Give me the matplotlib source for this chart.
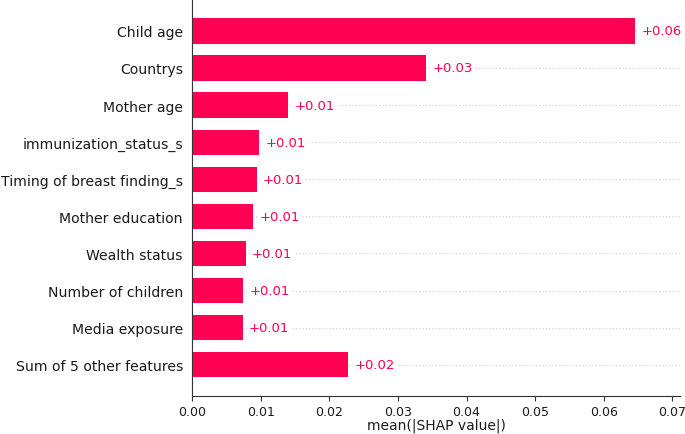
"""
SHAP style mean(|SHAP value|) bar chart
"""

import matplotlib
matplotlib.use("Agg")
import matplotlib.pyplot as plt

features = [
    "Child age",
    "Countrys",
    "Mother age",
    "immunization_status_s",
    "Timing of breast finding_s",
    "Mother education",
    "Wealth status",
    "Number of children",
    "Media exposure",
    "Sum of 5 other features",
]
mean_abs_shap = [0.0646, 0.0341, 0.0140, 0.0098, 0.0094, 0.0089, 0.0078, 0.0075, 0.0074, 0.0228]
value_labels = ["+0.06", "+0.03", "+0.01", "+0.01", "+0.01", "+0.01", "+0.01", "+0.01", "+0.01", "+0.02"]
xticks = [0.00, 0.01, 0.02, 0.03, 0.04, 0.05, 0.06, 0.07]

RED = "#ff0052"


def shap_bar(ax):
    n = len(features)
    y_pos = list(range(n, 0, -1))

    for y in y_pos:
        ax.axhline(y, color="#cccccc", lw=0.8, dashes=(1, 2), zorder=-1)

    ax.barh(y_pos, mean_abs_shap, height=0.68, color=RED, align="center", zorder=2)

    xmin, xmax = 0, 0.0711
    txt_offset = (xmax - xmin) / 80
    for y, v, lab in zip(y_pos, mean_abs_shap, value_labels):
        ax.text(v + txt_offset, y, lab, ha="left", va="center", color=RED,
                fontsize=9.5, zorder=3,
                bbox=dict(facecolor="white", edgecolor="none", pad=1.5))

    ax.set_xlim(xmin, xmax)
    ax.set_ylim(0.17, n + 0.86)
    ax.set_yticks(y_pos)
    ax.set_yticklabels(features, fontsize=10.1, color="#1a1a1a")
    ax.set_xticks(xticks)
    ax.set_xticklabels([f"{t:.2f}" for t in xticks])
    ax.tick_params(axis="y", length=0, pad=6.5)
    ax.tick_params(axis="x", labelsize=9, colors="#333333", labelcolor="#1a1a1a", pad=3)
    ax.spines["right"].set_visible(False)
    ax.spines["top"].set_visible(False)
    ax.spines["left"].set_color("#333333")
    ax.spines["bottom"].set_color("#333333")
    ax.set_xlabel("mean(|SHAP value|)", fontsize=10, color="#1a1a1a", labelpad=0)


if __name__ == "__main__":
    fig = plt.figure(figsize=(6.85, 4.35), dpi=100)
    ax = fig.add_axes([192 / 685, 1 - 396.5 / 435, (680 - 192) / 685, 396.5 / 435])
    shap_bar(ax)
    fig.savefig("out.png", dpi=100)
